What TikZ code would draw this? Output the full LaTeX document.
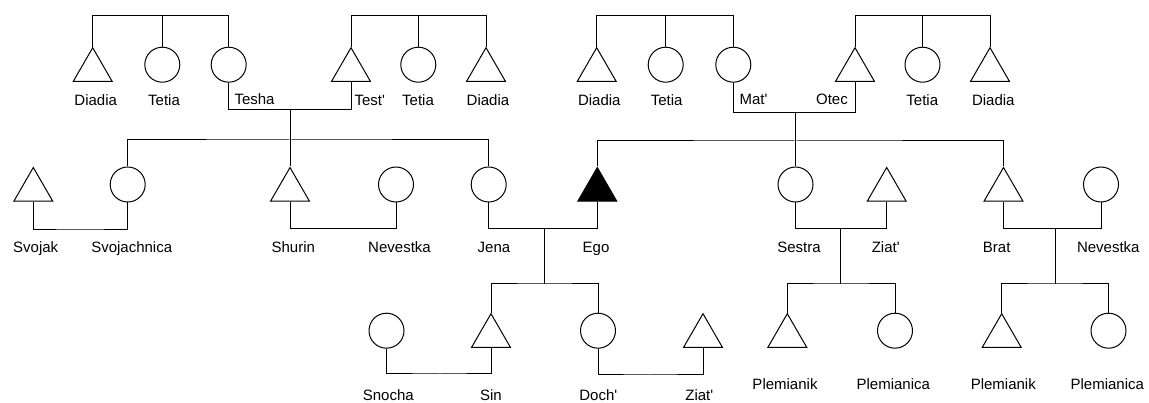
\documentclass[tikz,border=0pt]{standalone}
\usepackage{fontspec}
\setmainfont{Liberation Sans}
\usetikzlibrary{shapes.geometric}
\begin{document}
\begin{tikzpicture}[x=1pt,y=-1pt,line width=1pt,
        male/.style={draw,regular polygon,regular polygon sides=3,minimum size=45pt,inner sep=0pt,anchor=north},
        female/.style={draw,circle,minimum size=35pt,inner sep=0pt,anchor=north},
        self/.style={male,fill=black},
        kinname/.style={anchor=base,inner sep=0pt,font=\fontsize{15}{18}\selectfont}]
        \useasboundingbox (0,0) rectangle (1149,403);

        \node[male] (diadia1) at (92.7,46.7) {};
        \node[female] (tetia1) at (162.3,46.7) {};
        \node[female] (tesha) at (228.7,46.7) {};
        \node[male] (test) at (351,46.7) {};
        \node[female] (tetia2) at (418.3,46.7) {};
        \node[male] (diadia2) at (486,46.7) {};
        \node[male] (diadia3) at (596.7,46.7) {};
        \node[female] (tetia3) at (665.7,46.7) {};
        \node[female] (mat) at (733.3,46.7) {};
        \node[male] (otec) at (855,46.7) {};
        \node[female] (tetia4) at (922.5,46.7) {};
        \node[male] (diadia4) at (990,46.7) {};

        \node[male] (svojak) at (33.3,166.5) {};
        \node[female] (svojachnica) at (127.7,166.5) {};
        \node[male] (shurin) at (290,166.5) {};
        \node[female] (nevestka1) at (396,166.5) {};
        \node[female] (jena) at (488.7,166.5) {};
        \node[self] (ego) at (597.3,166.5) {};
        \node[female] (sestra) at (795.5,166.5) {};
        \node[male] (ziat1) at (886.7,166.5) {};
        \node[male] (brat) at (1003.5,166.5) {};
        \node[female] (nevestka2) at (1101,166.5) {};

        \node[female] (snocha) at (386.5,312.7) {};
        \node[male] (sin) at (491,312.7) {};
        \node[female] (doch) at (598,312.7) {};
        \node[male] (ziat2) at (703,312.7) {};
        \node[male] (plemianik1) at (787.3,312.7) {};
        \node[female] (plemianica1) at (895,312.7) {};
        \node[male] (plemianik2) at (1001.7,312.7) {};
        \node[female] (plemianica2) at (1108.5,312.7) {};

        \coordinate (top1) at (162.3,15.5);
        \coordinate (top2) at (418.3,15.5);
        \coordinate (top3) at (665.7,15.5);
        \coordinate (top4) at (922.5,15.5);
        \coordinate (wed1) at (290,109.3);
        \coordinate (wed2) at (795.5,112.7);
        \coordinate (sib1) at (290,140);
        \coordinate (sib2) at (795.5,141);
        \coordinate (wed3) at (80,230);
        \coordinate (wed4) at (343,228.3);
        \coordinate (wed5) at (544.3,228.3);
        \coordinate (wed6) at (840.7,228.3);
        \coordinate (wed7) at (1055,228.3);
        \coordinate (kids1) at (544.3,284);
        \coordinate (kids2) at (840.7,284);
        \coordinate (kids3) at (1055,284);
        \coordinate (wed8) at (440,374);
        \coordinate (wed9) at (650,375);

        \draw (diadia1.north) |- (top1) -| (tesha.north);
        \draw (tetia1.north) -- (top1);
        \draw (test.north) |- (top2) -| (diadia2.north);
        \draw (tetia2.north) -- (top2);
        \draw (diadia3.north) |- (top3) -| (mat.north);
        \draw (tetia3.north) -- (top3);
        \draw (otec.north) |- (top4) -| (diadia4.north);
        \draw (tetia4.north) -- (top4);

        \draw (tesha.south) |- (wed1) -| (test.south);
        \draw (wed1) -- (shurin.north);
        \draw (svojachnica.north) |- (sib1) -| (jena.north);
        \draw (mat.south) |- (wed2) -| (otec.south);
        \draw (wed2) -- (sestra.north);
        \draw (ego.north) |- (sib2) -| (brat.north);

        \draw (svojak.south) |- (wed3) -| (svojachnica.south);
        \draw (shurin.south) |- (wed4) -| (nevestka1.south);
        \draw (jena.south) |- (wed5) -| (ego.south);
        \draw (sestra.south) |- (wed6) -| (ziat1.south);
        \draw (brat.south) |- (wed7) -| (nevestka2.south);

        \draw (wed5) -- (kids1);
        \draw (sin.north) |- (kids1) -| (doch.north);
        \draw (wed6) -- (kids2);
        \draw (plemianik1.north) |- (kids2) -| (plemianica1.north);
        \draw (wed7) -- (kids3);
        \draw (plemianik2.north) |- (kids3) -| (plemianica2.north);

        \draw (snocha.south) |- (wed8) -| (sin.south);
        \draw (doch.south) |- (wed9) -| (ziat2.south);

        \node[kinname] (n1) at (95.7,106) {Diadia};
        \node[kinname] (n2) at (164,106) {Tetia};
        \node[kinname,anchor=base west] (n3) at (234,105) {Tesha};
        \node[kinname,anchor=base west] (n4) at (354,106) {Test\textquotesingle};
        \node[kinname] (n5) at (418,106) {Tetia};
        \node[kinname] (n6) at (488,106) {Diadia};
        \node[kinname] (n7) at (599.3,106) {Diadia};
        \node[kinname] (n8) at (666.7,106) {Tetia};
        \node[kinname,anchor=base west] (n9) at (739,105) {Mat\textquotesingle};
        \node[kinname,anchor=base east] (n10) at (848.3,105) {Otec};
        \node[kinname] (n11) at (922.3,106) {Tetia};
        \node[kinname] (n12) at (993.3,106) {Diadia};

        \node[kinname] (n13) at (35.7,252.7) {Svojak};
        \node[kinname] (n14) at (131.7,252.7) {Svojachnica};
        \node[kinname] (n15) at (293.3,252.7) {Shurin};
        \node[kinname] (n16) at (399.5,252.7) {Nevestka};
        \node[kinname] (n17) at (494,252.7) {Jena};
        \node[kinname] (n18) at (596,252.7) {Ego};
        \node[kinname] (n19) at (799,252.7) {Sestra};
        \node[kinname] (n20) at (885.7,252.7) {Ziat\textquotesingle};
        \node[kinname] (n21) at (996.7,252.7) {Brat};
        \node[kinname] (n22) at (1108.3,252.7) {Nevestka};

        \node[kinname] (n23) at (388.3,400.7) {Snocha};
        \node[kinname] (n24) at (491,400.7) {Sin};
        \node[kinname] (n25) at (598.3,400.7) {Doch\textquotesingle};
        \node[kinname] (n26) at (699.3,400.7) {Ziat\textquotesingle};
        \node[kinname] (n27) at (785,389.3) {Plemianik};
        \node[kinname] (n28) at (893.3,389.3) {Plemianica};
        \node[kinname] (n29) at (1003.3,389.3) {Plemianik};
        \node[kinname] (n30) at (1107.3,389.3) {Plemianica};
    \end{tikzpicture}
\end{document}
